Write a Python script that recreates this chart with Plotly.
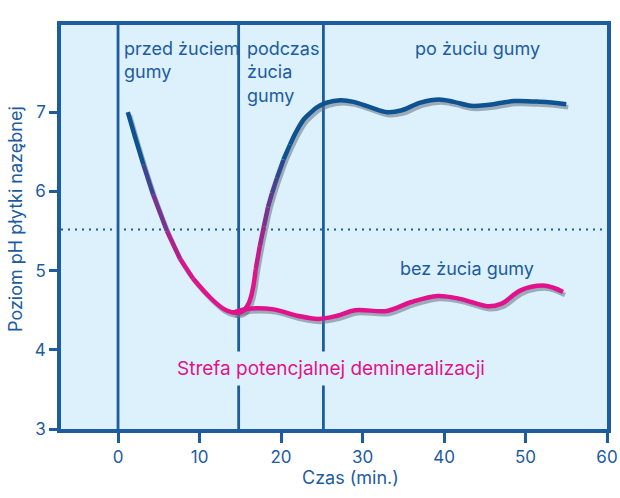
import numpy as np
import plotly.graph_objects as go

# ---- data ----
gum_x = [1.2, 2.1, 3.1, 4.3, 6.0, 7.6, 9.2, 11.3, 12.9, 14.1, 15.2, 16.0, 16.5, 16.9, 17.4,
         17.9, 18.4, 18.9, 19.5, 20.3, 21.1, 21.9, 22.8, 23.6, 24.4, 25.6, 27.3, 28.9, 31.0,
         33.0, 34.7, 37.1, 39.4, 41.2, 43.3, 45.3, 48.6, 51.9, 55.0]
gum_y = [7.00, 6.68, 6.34, 5.96, 5.50, 5.15, 4.90, 4.66, 4.52, 4.47, 4.48, 4.58, 4.75, 5.02, 5.31,
         5.56, 5.80, 5.98, 6.17, 6.40, 6.59, 6.76, 6.91, 6.99, 7.06, 7.12, 7.15, 7.13, 7.06,
         7.00, 7.02, 7.12, 7.16, 7.13, 7.08, 7.09, 7.14, 7.13, 7.10]

nogum_x = [14.1, 16.2, 19.1, 22.0, 24.6, 26.9, 29.1, 33.0, 35.9, 39.2, 42.1, 45.3, 47.0, 49.4,
           52.1, 53.5, 54.6]
nogum_y = [4.47, 4.52, 4.51, 4.43, 4.39, 4.43, 4.50, 4.49, 4.60, 4.68, 4.64, 4.55, 4.58, 4.75,
           4.81, 4.78, 4.73]

phase_lines = [0, 14.8, 25.2]
critical_ph = 5.52
x_ticks = [0, 10, 20, 30, 40, 50, 60]
y_ticks = [3, 4, 5, 6, 7]

# ---- style ----
BLUE = "#1d5c9f"
LINE_BLUE = (14, 82, 145)
MAGENTA = (224, 19, 140)
BG = "#dcf1fc"
FONT = "Inter"
SHADOW = "rgba(100,115,130,0.55)"
LW = 4.5

W, H = 620, 498
L, R, T, B = 61, 13, 25, 69
XR = [-7, 60]
YR = [3, 8.1]
pw, ph = W - L - R, H - T - B


def px2paper(px, py):
    return (px - L) / pw, (H - B - py) / ph


def mix(t):
    c = [int(round(MAGENTA[i] + (LINE_BLUE[i] - MAGENTA[i]) * t)) for i in range(3)]
    return "rgb(%d,%d,%d)" % tuple(c)


fig = go.Figure()

# shadows
dx = 2.0 * (XR[1] - XR[0]) / pw
dy = 3.0 * (YR[1] - YR[0]) / ph
for xs, ys in [(gum_x, gum_y), (nogum_x, nogum_y)]:
    fig.add_trace(go.Scatter(x=[v + dx for v in xs], y=[v - dy for v in ys], mode="lines",
                             line=dict(color=SHADOW, width=LW, shape="spline"),
                             hoverinfo="skip", showlegend=False))

# no-gum curve
fig.add_trace(go.Scatter(x=nogum_x, y=nogum_y, mode="lines",
                         line=dict(color=mix(0), width=LW, shape="spline"),
                         hoverinfo="skip", showlegend=False))

# gum curve with colour gradient by pH
lo, hi = 4.95, 6.5
n = len(gum_x)
seg = []
for i in range(n - 1):
    t = ((gum_y[i] + gum_y[i + 1]) / 2 - lo) / (hi - lo)
    t = min(1.0, max(0.0, t))
    seg.append(t)

i = 0
while i < n - 1:
    t = seg[i]
    if t in (0.0, 1.0):
        j = i
        while j + 1 < n - 1 and seg[j + 1] == t:
            j += 1
        fig.add_trace(go.Scatter(x=gum_x[i:j + 2], y=gum_y[i:j + 2], mode="lines",
                                 line=dict(color=mix(t), width=LW, shape="spline"),
                                 hoverinfo="skip", showlegend=False))
        i = j + 1
    else:
        fig.add_trace(go.Scatter(x=gum_x[i:i + 2], y=gum_y[i:i + 2], mode="lines",
                                 line=dict(color=mix(t), width=LW),
                                 hoverinfo="skip", showlegend=False))
        i += 1

# shapes
shapes = []
for xv in phase_lines:
    shapes.append(dict(type="line", xref="x", yref="paper", x0=xv, x1=xv, y0=0, y1=1,
                       line=dict(color=BLUE, width=2.8), layer="below"))
shapes.append(dict(type="line", xref="paper", yref="y", x0=0, x1=1, y0=critical_ph, y1=critical_ph,
                   line=dict(color=BLUE, width=2, dash="2px,5px"), layer="below"))

annotations = []
FS = 18


def ann(text, px, py, xanchor="left", yanchor="top", color=BLUE, size=FS, **kw):
    xp, yp = px2paper(px, py)
    annotations.append(dict(text=text, x=xp, y=yp, xref="paper", yref="paper",
                            xanchor=xanchor, yanchor=yanchor, showarrow=False, align="left",
                            font=dict(family=FONT, size=size, color=color), **kw))


ann("przed żuciem<br>gumy", 122, 36)
ann("podczas<br>żucia<br>gumy", 245, 36)
ann("po żuciu gumy", 477, 36, xanchor="center")
ann("bez żucia gumy", 467, 268, xanchor="center", yanchor="middle")
ann("Strefa potencjalnej demineralizacji", 331, 368, xanchor="center", yanchor="middle",
    color=mix(0), bgcolor=BG, borderpad=5, size=19)
ann("Poziom pH płytki nazębnej", 15, 219, xanchor="center", yanchor="middle", textangle=-90)
ann("Czas (min.)", 350, 477, xanchor="center", yanchor="middle")

fig.update_layout(
    width=W, height=H, margin=dict(l=L, r=R, t=T, b=B, autoexpand=False),
    paper_bgcolor="white", plot_bgcolor=BG,
    shapes=shapes, annotations=annotations, showlegend=False,
    font=dict(family=FONT, size=FS, color=BLUE),
)
fig.update_xaxes(range=XR, tickvals=x_ticks, showgrid=False, zeroline=False, automargin=False,
                 showline=True, mirror=True, linecolor=BLUE, linewidth=3.5,
                 ticks="outside", ticklen=10, tickwidth=3, tickcolor=BLUE,
                 tickfont=dict(family=FONT, size=17, color=BLUE))
fig.update_yaxes(range=YR, tickvals=y_ticks, showgrid=False, zeroline=False, automargin=False,
                 showline=True, mirror=True, linecolor=BLUE, linewidth=3.5,
                 ticks="outside", ticklen=8, tickwidth=3, tickcolor=BLUE,
                 tickfont=dict(family=FONT, size=17, color=BLUE))

fig.write_html("out.html")
